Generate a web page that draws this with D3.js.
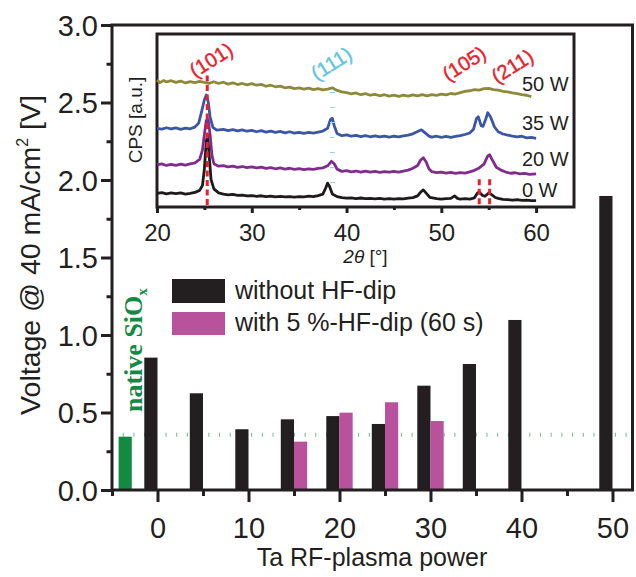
<!DOCTYPE html>
<html>
<head>
<meta charset="utf-8">
<script src="https://cdn.jsdelivr.net/npm/d3@7"></script>
<style>
  body { margin: 0; background: #fff; }
  text { font-family: "Liberation Sans", Arial, sans-serif; fill: #231f20; }
</style>
</head>
<body>
<div id="chart"></div>
<script>
// main bar chart data
const powers = [0, 5, 10, 15, 20, 25, 30, 35, 40, 50];
const voltNoHF = [0.854, 0.624, 0.392, 0.456, 0.477, 0.426, 0.673, 0.813, 1.097, 1.897];
const hfPowers = [15, 20, 25, 30];
const voltHF = [0.312, 0.499, 0.566, 0.445];
const sioxPos = -3.55;
const sioxVolt = 0.344;
const sioxLevel = 0.357;
const yTicks = [0, 0.5, 1, 1.5, 2, 2.5, 3];
const yMinor = [0.25, 0.75, 1.25, 1.75, 2.25, 2.75];
const xTicks = [0, 10, 20, 30, 40, 50];
const xMinor = [-5, 5, 15, 25, 35, 45];

// inset XRD data: [2theta, counts a.u.]
const xrd0 = [[20,7.9],[20.5,8.3],[21,7.6],[21.5,8.1],[22,7.7],[22.5,8.2],[23,7.5],[23.5,7.9],[24,8.4],[24.5,9.6],[24.8,12.5],[25.0,22],[25.2,38],[25.35,41.6],[25.5,30],[25.7,16],[26,10.5],[26.5,8.2],[27,7.4],[27.5,7.0],[28,7.3],[28.5,6.7],[29,6.9],[29.5,6.4],[30,6.6],[30.5,6.2],[31,6.5],[31.5,6.0],[32,6.3],[32.5,5.9],[33,6.2],[33.5,5.8],[34,6.0],[34.5,5.7],[35,6.0],[35.5,5.9],[36,6.3],[36.5,6.0],[37,6.6],[37.5,7.4],[37.8,11],[38.0,13.8],[38.2,12],[38.5,7.5],[39,6.0],[39.5,5.4],[40,5.1],[40.5,5.3],[41,4.9],[41.5,5.2],[42,4.8],[42.5,5.0],[43,4.7],[43.5,5.0],[44,4.6],[44.5,4.9],[45,4.6],[45.5,4.9],[46,4.7],[46.5,5.1],[47,5.4],[47.5,6.4],[47.8,8.5],[48.1,9.9],[48.4,8],[48.8,5.5],[49.5,4.8],[50,4.5],[50.5,4.8],[51,5.0],[51.4,6.4],[51.7,5.0],[52,4.6],[52.5,4.8],[53,4.6],[53.5,5.3],[53.8,8.0],[54.0,8.8],[54.3,6.8],[54.6,6.2],[55.0,8.0],[55.3,7.2],[55.7,5.5],[56,5.0],[56.5,4.4],[57,4.3],[57.5,4.0],[58,4.2],[58.5,3.8],[59,4.0],[59.5,3.7],[60,3.7]];
const xrd20 = [[20,24.3],[20.5,24.9],[21,24.0],[21.5,24.7],[22,24.1],[22.5,24.8],[23,24.2],[23.5,24.9],[24,25.5],[24.5,27.5],[24.8,33],[25.0,42],[25.2,50],[25.4,50.5],[25.6,42],[25.8,30],[26,25],[26.5,23.6],[27,23.9],[27.5,23.2],[28,23.6],[28.5,22.9],[29,23.4],[29.5,22.7],[30,23.2],[30.5,22.6],[31,23.0],[31.5,22.3],[32,22.8],[32.5,22.1],[33,22.6],[33.5,21.9],[34,22.4],[34.5,21.7],[35,22.2],[35.5,21.6],[36,22.1],[36.5,21.7],[37,22.3],[37.5,22.6],[38,23.8],[38.4,26.4],[38.7,25],[39,21.9],[39.5,20.6],[40,21.0],[40.5,20.3],[41,20.8],[41.5,20.1],[42,20.7],[42.5,20.2],[43,20.6],[43.5,20.0],[44,20.5],[44.5,20.1],[45,20.6],[45.5,20.2],[46,20.8],[46.5,21.3],[47,22.4],[47.5,24],[47.8,27],[48.1,28.5],[48.4,26],[48.7,22],[49,20.4],[49.5,19.9],[50,20.2],[50.5,19.6],[51,20.0],[51.5,19.5],[52,19.9],[52.5,19.6],[53,20.3],[53.5,21.2],[54,22.6],[54.5,24.8],[54.9,29.5],[55.1,30.2],[55.4,27],[55.8,23],[56.3,21.3],[56.8,20.2],[57.3,19.5],[57.8,19.8],[58.3,19.1],[58.8,19.5],[59.3,18.9],[60,19.2]];
const xrd35 = [[20,45.5],[20.5,45.0],[21,45.8],[21.5,45.1],[22,45.7],[22.5,44.9],[23,45.6],[23.5,45.2],[24,46.2],[24.4,48.5],[24.7,55],[25.0,62],[25.2,64.7],[25.4,61],[25.6,52],[25.9,46],[26.3,44.4],[27,44.9],[27.5,44.2],[28,44.7],[28.5,44.0],[29,44.6],[29.5,43.8],[30,44.3],[30.5,43.5],[31,44.1],[31.5,43.3],[32,43.9],[32.5,43.1],[33,43.7],[33.5,42.9],[34,43.5],[34.5,42.7],[35,43.2],[35.5,42.6],[36,43.1],[36.5,42.7],[37,43.3],[37.5,43.9],[38,45.5],[38.3,50.5],[38.5,51.3],[38.7,47],[39,42.5],[39.5,41.2],[40,41.7],[40.5,40.9],[41,41.4],[41.5,40.7],[42,41.3],[42.5,40.6],[43,41.1],[43.5,40.5],[44,41.0],[44.5,40.4],[45,40.9],[45.5,40.5],[46,41.1],[46.5,41.6],[47,42.3],[47.5,43.6],[47.9,44.6],[48.3,42.8],[48.7,41.0],[49,40.4],[49.5,40.9],[50,40.3],[50.5,40.8],[51,40.2],[51.5,40.8],[52,41.2],[52.5,41.9],[53,42.8],[53.4,45],[53.7,51],[53.9,52.2],[54.2,47],[54.4,46.6],[54.7,51],[54.9,54.5],[55.2,52],[55.6,46.4],[56,43.5],[56.5,42.2],[57,41.6],[57.5,41.0],[58,40.5],[58.5,40.9],[59,40.0],[59.5,40.3],[60,39.7]];
const xrd50 = [[20,73.4],[20.3,71.9],[20.7,73.1],[21,72.3],[21.5,73.0],[22,72.0],[22.5,72.8],[23,71.7],[23.5,72.5],[24,71.9],[24.5,72.6],[25,72.0],[25.5,71.5],[26,72.4],[26.5,71.4],[27,72.1],[27.5,71.0],[28,71.8],[28.5,70.8],[29,71.4],[29.5,70.6],[30,71.3],[30.5,70.4],[31,70.9],[31.5,69.8],[32,70.4],[32.5,69.5],[33,69.9],[33.5,68.9],[34,69.3],[34.5,68.4],[35,68.8],[35.5,68.1],[36,68.7],[36.5,67.9],[37,68.4],[37.5,67.7],[38,68.1],[38.5,68.9],[39,67.4],[39.5,66.6],[40,66.1],[40.5,65.4],[41,65.9],[41.5,64.9],[42,65.5],[42.5,64.6],[43,65.1],[43.5,64.3],[44,64.9],[44.5,64.1],[45,64.6],[45.5,64.0],[46,64.7],[46.5,64.1],[47,64.8],[47.5,64.2],[48,64.9],[48.5,64.3],[49,64.9],[49.5,64.5],[50,65.2],[50.5,64.8],[51,65.6],[51.5,65.3],[52,66.1],[52.5,66.8],[53,67.2],[53.5,67.9],[54,67.6],[54.5,68.4],[55,68.6],[55.5,67.9],[56,67.6],[56.5,66.9],[57,66.5],[57.5,66.0],[58,65.6],[58.5,65.0],[59,64.6],[59.5,63.8]];
const xrdNames = ['0 W', '20 W', '35 W', '50 W'];
const xrdLabelY = [6, 23.5, 44.5, 67];
const insetTicks = [20, 30, 40, 50, 60];
const insetMinor = [25, 35, 45, 55];
const peakNames = ['(101)', '(111)', '(105)', '(211)'];
const peakLabelPos = [[25.7, 85], [38.4, 83], [52.4, 83], [57.5, 81.5]];

const W = 636, H = 577;
const ink = '#231f20';
const svg = d3.select('#chart').append('svg').attr('width', W).attr('height', H);

const x = d3.scaleLinear().domain([-5, 52.2]).range([112, 632.5]);
const y = d3.scaleLinear().domain([0, 3]).range([490, 25]);
const bw = x(1.45) - x(0);

// native SiOx reference level
svg.append('line')
    .attr('x1', x(-5)).attr('x2', x(52.2))
    .attr('y1', y(sioxLevel)).attr('y2', y(sioxLevel))
    .attr('stroke', '#6dbb93').attr('stroke-width', 4)
    .attr('stroke-dasharray', '1,9.7');

svg.append('rect')
    .attr('x', x(sioxPos) - bw / 2).attr('width', bw)
    .attr('y', y(sioxVolt)).attr('height', y(0) - y(sioxVolt))
    .attr('fill', '#138a44');

svg.selectAll('.bar0')
    .data(powers)
    .enter()
    .append('rect')
    .attr('x', d => x(d) - bw)
    .attr('width', bw)
    .attr('y', (d, i) => y(voltNoHF[i]))
    .attr('height', (d, i) => y(0) - y(voltNoHF[i]))
    .attr('fill', ink);

svg.selectAll('.barHF')
    .data(hfPowers)
    .enter()
    .append('rect')
    .attr('x', d => x(d))
    .attr('width', bw)
    .attr('y', (d, i) => y(voltHF[i]))
    .attr('height', (d, i) => y(0) - y(voltHF[i]))
    .attr('fill', '#b8529c');

// frame
svg.append('rect')
    .attr('x', x(-5)).attr('y', y(3))
    .attr('width', x(52.2) - x(-5)).attr('height', y(0) - y(3))
    .attr('fill', 'none').attr('stroke', ink).attr('stroke-width', 3);

const styleAxis = g => {
  g.select('.domain').remove();
  g.selectAll('line').attr('stroke', ink).attr('stroke-width', 3);
};

svg.append('g')
    .attr('transform', `translate(0,${y(0)})`)
    .call(d3.axisBottom(x).tickValues(xTicks).tickSize(12).tickSizeOuter(0))
    .call(styleAxis)
    .call(g => g.selectAll('text').attr('y', 48).attr('dy', 0)
        .attr('font-size', 29).attr('fill', ink));
svg.append('g')
    .attr('transform', `translate(0,${y(0)})`)
    .call(d3.axisBottom(x).tickValues(xMinor).tickSize(6).tickFormat(''))
    .call(styleAxis);

svg.append('g')
    .attr('transform', `translate(${x(-5)},0)`)
    .call(d3.axisLeft(y).tickValues(yTicks).tickSize(11).tickSizeOuter(0)
        .tickFormat(d3.format('.1f')))
    .call(styleAxis)
    .call(g => g.selectAll('text').attr('x', -14).attr('dy', '0.36em')
        .attr('font-size', 29).attr('fill', ink));
svg.append('g')
    .attr('transform', `translate(${x(-5)},0)`)
    .call(d3.axisLeft(y).tickValues(yMinor).tickSize(5.5).tickFormat(''))
    .call(styleAxis);

// axis titles
svg.append('text')
    .attr('x', 372).attr('y', 566)
    .attr('text-anchor', 'middle').attr('font-size', 25)
    .text('Ta RF-plasma power');

const yTitle = svg.append('text')
    .attr('transform', 'translate(40,255) rotate(-90)')
    .attr('text-anchor', 'middle').attr('font-size', 28.5);
yTitle.append('tspan').text('Voltage @ 40 mA/cm');
yTitle.append('tspan').attr('font-size', 16).attr('dy', -12).text('2');
yTitle.append('tspan').attr('dy', 12).text(' [V]');

// native SiOx label
const siox = svg.append('text')
    .attr('transform', 'translate(142,412) rotate(-90)')
    .style('font-family', '"Liberation Serif", "Times New Roman", serif')
    .style('fill', '#138a44')
    .attr('font-weight', 'bold').attr('font-size', 26);
siox.append('tspan').text('native SiO');
siox.append('tspan').attr('font-size', 15).attr('dy', 5).text('x');

// legend
const legend = svg.append('g');
legend.append('rect').attr('x', 172).attr('y', 279).attr('width', 53).attr('height', 24).attr('fill', ink);
legend.append('rect').attr('x', 172).attr('y', 312).attr('width', 53).attr('height', 23).attr('fill', '#b8529c');
legend.append('text').attr('x', 235).attr('y', 299).attr('font-size', 25).text('without HF-dip');
legend.append('text').attr('x', 235).attr('y', 331).attr('font-size', 25).text('with 5 %-HF-dip (60 s)');

// inset
const xi = d3.scaleLinear().domain([20, 64]).range([157, 574]);
const yi = d3.scaleLinear().domain([0, 100]).range([207, 34]);

svg.append('rect')
    .attr('x', xi(20)).attr('y', yi(100))
    .attr('width', xi(64) - xi(20)).attr('height', yi(0) - yi(100))
    .attr('fill', '#fff').attr('stroke', ink).attr('stroke-width', 3);

const line = d3.line().x(d => xi(d[0])).y(d => yi(d[1]));
const curves = [xrd0, xrd20, xrd35, xrd50];
const curveColors = ['#1e1a1b', '#7e2d8c', '#3c56a6', '#8c8a3a'];

svg.selectAll('.xrd')
    .data(curves)
    .enter()
    .append('path')
    .attr('fill', 'none')
    .attr('stroke', (d, i) => curveColors[i])
    .attr('stroke-width', 2.8)
    .attr('stroke-linejoin', 'round')
    .attr('d', d => line(d));

// reference lines
svg.append('line')
    .attr('x1', xi(25.3)).attr('x2', xi(25.3))
    .attr('y1', yi(76)).attr('y2', yi(0))
    .attr('stroke', '#e8202a').attr('stroke-width', 3).attr('stroke-dasharray', '6,3.5');
svg.selectAll('.ref2')
    .data([54.0, 55.1])
    .enter()
    .append('line')
    .attr('x1', d => xi(d)).attr('x2', d => xi(d))
    .attr('y1', yi(16)).attr('y2', yi(0))
    .attr('stroke', '#e8202a').attr('stroke-width', 3).attr('stroke-dasharray', '6,3.5');
svg.append('line')
    .attr('x1', xi(38.5)).attr('x2', xi(38.5))
    .attr('y1', yi(66.5)).attr('y2', yi(11.5))
    .attr('stroke', '#8fd4e8').attr('stroke-width', 5).attr('stroke-dasharray', '1,14');

svg.selectAll('.peak')
    .data(peakNames)
    .enter()
    .append('text')
    .attr('transform', (d, i) => `translate(${xi(peakLabelPos[i][0])},${yi(peakLabelPos[i][1])}) rotate(-32)`)
    .attr('text-anchor', 'middle').attr('dy', '0.35em')
    .attr('font-size', 20)
    .style('fill', (d, i) => i === 1 ? '#5fc6df' : '#e8202a')
    .style('stroke', (d, i) => i === 1 ? '#5fc6df' : '#e8202a')
    .style('stroke-width', 0.4)
    .text(d => d);

svg.selectAll('.wlab')
    .data(xrdNames)
    .enter()
    .append('text')
    .attr('x', xi(58.5)).attr('y', (d, i) => yi(xrdLabelY[i]))
    .attr('font-size', 20)
    .text(d => d);

svg.append('g')
    .attr('transform', `translate(0,${yi(0)})`)
    .call(d3.axisBottom(xi).tickValues(insetTicks).tickSize(6).tickSizeOuter(0))
    .call(g => { g.select('.domain').remove(); g.selectAll('line').attr('stroke', ink).attr('stroke-width', 3); })
    .call(g => g.selectAll('text').attr('y', 34).attr('dy', 0)
        .attr('font-size', 24).attr('fill', ink));
svg.append('g')
    .attr('transform', `translate(0,${yi(0)})`)
    .call(d3.axisBottom(xi).tickValues(insetMinor).tickSize(3).tickFormat(''))
    .call(g => { g.select('.domain').remove(); g.selectAll('line').attr('stroke', ink).attr('stroke-width', 3); });

const tTitle = svg.append('text')
    .attr('x', xi(42)).attr('y', 263)
    .attr('text-anchor', 'middle').attr('font-size', 19);
tTitle.append('tspan').attr('font-style', 'italic').text('2θ');
tTitle.append('tspan').text(' [°]');

svg.append('text')
    .attr('transform', 'translate(142,120) rotate(-90)')
    .attr('text-anchor', 'middle').attr('font-size', 19)
    .text('CPS [a.u.]');
</script>
</body>
</html>
